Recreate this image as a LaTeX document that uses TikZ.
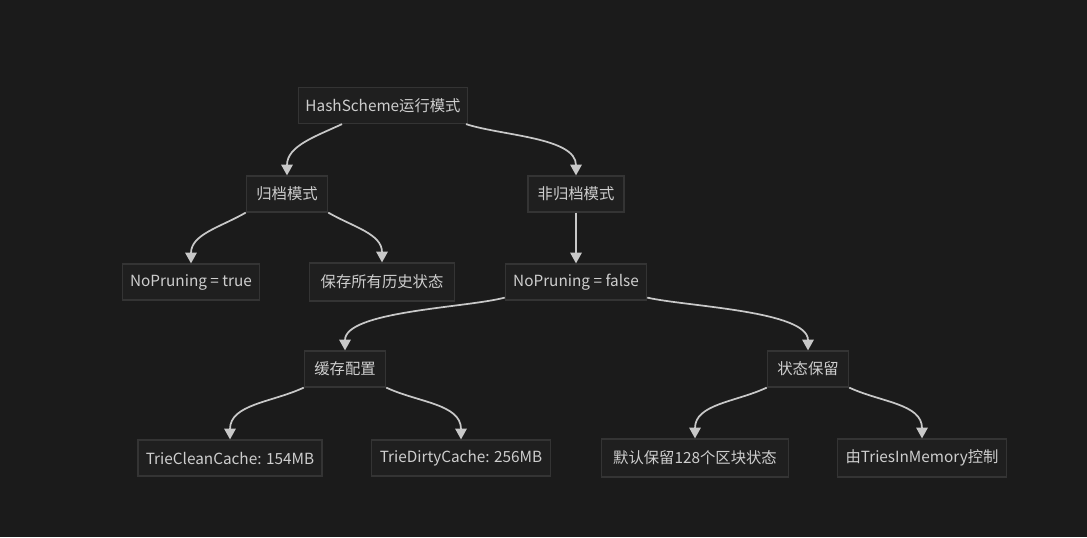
\documentclass[tikz,border=0pt]{standalone}
\usepackage{fontspec}
\setmainfont{Noto Sans CJK SC}
\usetikzlibrary{arrows.meta,calc}
\definecolor{bgDark}{RGB}{27,27,27}
\definecolor{nodeFill}{RGB}{31,31,31}
\definecolor{nodeLine}{RGB}{52,52,52}
\definecolor{textGray}{RGB}{206,206,206}
\definecolor{edgeGray}{RGB}{200,200,200}
\tikzset{
  mode/.style={draw=nodeLine, line width=0.9pt, fill=nodeFill, text=textGray, align=center, minimum height=27pt, inner xsep=5pt, font=\fontsize{11.5}{13}\selectfont},
  arrow/.style={-{Triangle[length=8pt,width=8.5pt]}, line width=1.3pt, draw=edgeGray}
}

\begin{document}
\begin{tikzpicture}[x=0.75pt,y=0.75pt]
  \fill[bgDark] (0,0) rectangle (1087,537);
  \useasboundingbox (0,0) rectangle (1087,537);

  \node[mode, minimum width=126pt] (hashmode) at (383,431.5) {HashScheme运行模式};
  \node[mode, minimum width=61pt] (archive) at (287,343) {归档模式};
  \node[mode, minimum width=72pt] (nonarchive) at (576,343) {非归档模式};
  \node[mode, minimum width=103pt] (prunetrue) at (191,255) {NoPruning = true};
  \node[mode, minimum width=109pt, minimum height=28.5pt] (keepall) at (382,255) {保存所有历史状态};
  \node[mode, minimum width=106pt] (prunefalse) at (576,255) {NoPruning = false};
  \node[mode, minimum width=61pt] (cachecfg) at (345,168) {缓存配置};
  \node[mode, minimum width=61pt] (retain) at (808,168) {状态保留};
  \node[mode, minimum width=138pt] (cleancache) at (230,79) {TrieCleanCache: 154MB};
  \node[mode, minimum width=134pt] (dirtycache) at (461,79) {TrieDirtyCache: 256MB};
  \node[mode, minimum width=140pt, minimum height=28.5pt] (default128) at (695,79) {默认保留128个区块状态};
  \node[mode, minimum width=127pt, minimum height=28.5pt] (triesmem) at (922,79) {由TriesInMemory控制};

  \draw[arrow] ($(hashmode.south)+(-41,0)$) to[out=205, in=90] (archive.north);
  \draw[arrow] ($(hashmode.south)+(83,0)$) to[out=-18, in=90, looseness=0.8] (nonarchive.north);
  \draw[arrow] (archive.south west) to[out=210, in=90] (prunetrue.north);
  \draw[arrow] (archive.south east) to[out=-30, in=90] (keepall.north);
  \draw[arrow] (nonarchive) -- (prunefalse);
  \draw[arrow] ($(prunefalse.south west)+(0,3)$) to[out=195, in=90, looseness=0.6] (cachecfg.north);
  \draw[arrow] ($(prunefalse.south east)+(0,3)$) to[out=-13, in=90, looseness=0.6] (retain.north);
  \draw[arrow] (cachecfg.south west) to[out=205, in=90] (cleancache.north);
  \draw[arrow] (cachecfg.south east) to[out=-25, in=90] (dirtycache.north);
  \draw[arrow] (retain.south west) to[out=205, in=90] (default128.north);
  \draw[arrow] (retain.south east) to[out=-25, in=90] (triesmem.north);
\end{tikzpicture}
\end{document}
